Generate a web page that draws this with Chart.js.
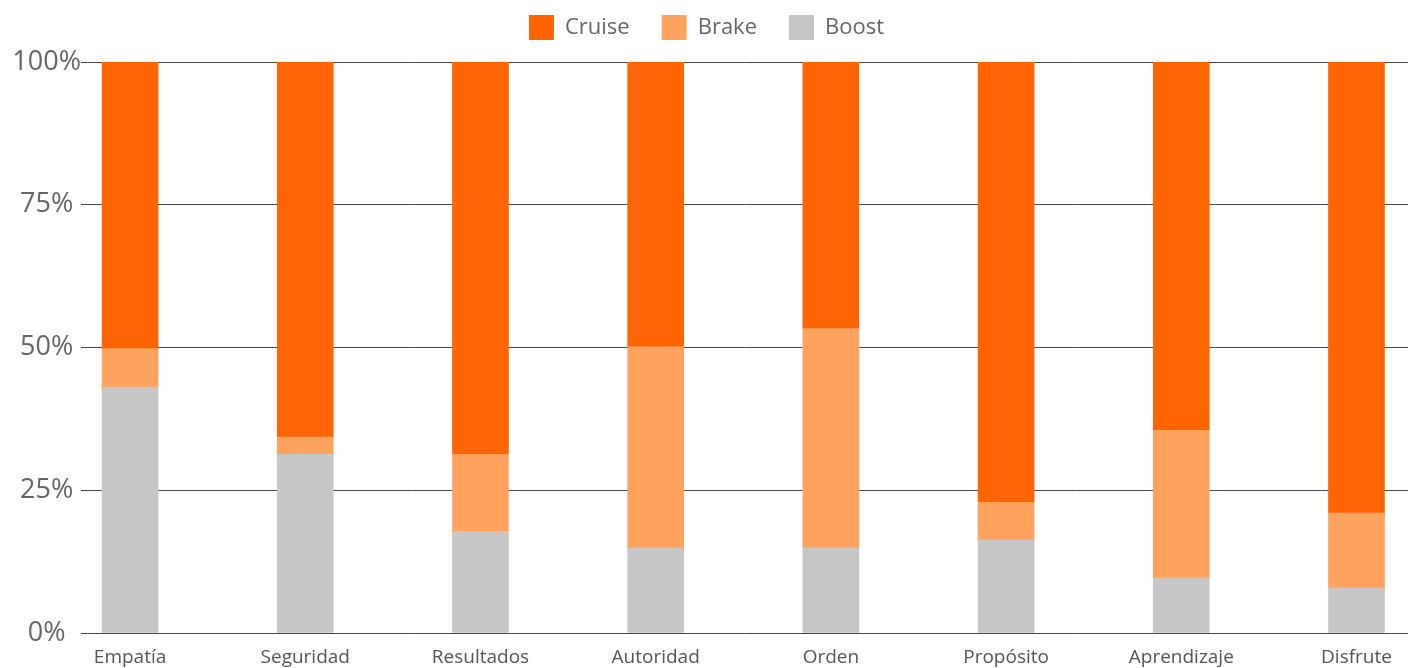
<!DOCTYPE html>
<html>
<head>
<meta charset="utf-8">
<script src="https://cdn.jsdelivr.net/npm/chart.js@4.4.1/dist/chart.umd.min.js"></script>
<style>
  html, body { margin: 0; padding: 0; background: #fff; overflow: hidden; }
  #wrap { width: 1408px; height: 668px; }
</style>
</head>
<body>
<div id="wrap"><canvas id="stackChart"></canvas></div>
<script>
// categories along the bottom
const categories = ["Empatía", "Seguridad", "Resultados", "Autoridad", "Orden", "Propósito", "Aprendizaje", "Disfrute"];

// shares per category, in percent
const boostValues  = [43.0, 31.3, 17.8, 14.9, 14.9, 16.3,  9.6,  7.9];
const brakeValues  = [ 6.8,  3.0, 13.5, 35.2, 38.4,  6.6, 25.9, 13.1];
const cruiseValues = [50.2, 65.7, 68.7, 49.9, 46.7, 77.1, 64.5, 79.0];

const yTicks = [0, 25, 50, 75, 100];

// bars sit on a linear x scale so the plot can start where the grid starts
const toPoints = vals => vals.map((v, i) => ({ x: i, y: v }));

const fontFam = "'Open Sans', 'DejaVu Sans', sans-serif";

// a bit more room under the legend
const legendGap = {
  id: "legendGap",
  beforeInit(chart) {
    const origFit = chart.legend.fit;
    chart.legend.fit = function () {
      origFit.bind(chart.legend)();
      this.height += 12;
    };
  }
};

new Chart(document.getElementById("stackChart"), {
  type: "bar",
  data: {
    datasets: [
      { label: "Boost",  data: toPoints(boostValues),  backgroundColor: "#c6c6c6" },
      { label: "Brake",  data: toPoints(brakeValues),  backgroundColor: "#ffa35f" },
      { label: "Cruise", data: toPoints(cruiseValues), backgroundColor: "#ff6505" }
    ]
  },
  plugins: [legendGap],
  options: {
    responsive: true,
    maintainAspectRatio: false,
    animation: false,
    layout: { padding: { left: 5, right: 0, top: -17, bottom: 0 } },
    datasets: { bar: { barThickness: 56 } },
    plugins: {
      tooltip: { enabled: false },
      legend: {
        position: "top",
        reverse: true,
        labels: {
          boxWidth: 25,
          boxHeight: 25,
          padding: 32,
          color: "#666",
          font: { family: fontFam, size: 22 }
        }
      }
    },
    scales: {
      x: {
        type: "linear",
        stacked: true,
        offset: false,
        min: -0.28,
        max: 7.294,
        grid: { display: false, drawTicks: false },
        border: { display: false },
        afterBuildTicks: axis => {
          axis.ticks = categories.map((c, i) => ({ value: i }));
        },
        afterFit: axis => { axis.height = 35; },
        ticks: {
          padding: 13,
          color: "#555",
          font: { family: fontFam, size: 19 },
          callback: v => categories[v]
        }
      },
      y: {
        stacked: true,
        min: 0,
        max: 100,
        afterBuildTicks: axis => {
          axis.ticks = yTicks.map(v => ({ value: v }));
        },
        afterFit: axis => { axis.width = 76; },
        grid: { color: "#4a4a4a", lineWidth: 1, drawTicks: false },
        border: { display: false },
        ticks: {
          crossAlign: "center",
          padding: 0,
          color: "#666",
          font: { family: fontFam, size: 27 },
          callback: v => v + "%"
        }
      }
    }
  }
});
</script>
</body>
</html>
